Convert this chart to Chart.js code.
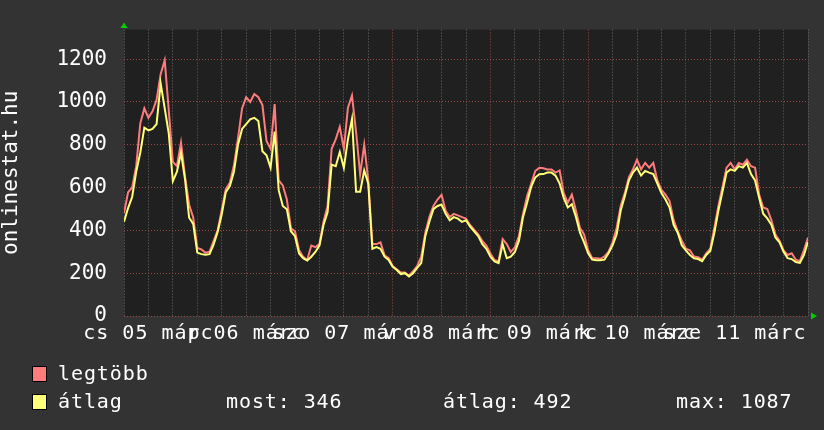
<!DOCTYPE html>
<html>
<head>
<meta charset="utf-8">
<script src="https://cdn.jsdelivr.net/npm/chart.js@4.4.1/dist/chart.umd.min.js"></script>
<style>
  html, body { margin: 0; padding: 0; background: #333333; }
  #wrap { position: relative; width: 824px; height: 430px; overflow: hidden; }
  canvas { position: absolute; left: 0; top: 0; }
  .txt { position: absolute; font: 20px 'DejaVu Sans Mono', monospace; line-height: 20px;
         color: #ffffff; white-space: pre; letter-spacing: 0.9px; }
  .sw { position: absolute; width: 13px; height: 14px; border: 1px solid #000; }
</style>
</head>
<body>
<div id="wrap">
  <canvas id="chart" width="824" height="430"></canvas>
  <div id="legend"></div>
</div>
<script>
// hourly samples, 7 days starting 06:00 the day before "cs 05"
const maxVals = [
  480, 578, 600, 700, 900, 970, 926, 956, 1010, 1130, 1195, 960,
  720, 700, 810, 650, 520, 460, 318, 311, 296, 300, 350, 400,
  496, 593, 622, 704, 830, 970, 1022, 1000, 1037, 1022, 985, 818,
  781, 990, 633, 610, 544, 410, 396, 307, 277, 262, 329, 322,
  336, 440, 514, 781, 825, 884, 781, 973, 1030, 860, 662, 800,
  633, 336, 336, 344, 284, 270, 233, 218, 203, 203, 188, 210,
  233, 277, 388, 462, 514, 544, 566, 492, 462, 477, 470, 462,
  455, 425, 403, 381, 351, 329, 292, 262, 255, 359, 336, 299,
  321, 373, 477, 559, 618, 677, 692, 690, 685, 685, 670, 680,
  574, 530, 567, 493, 411, 381, 307, 270, 270, 267, 278, 300,
  344, 411, 515, 574, 648, 685, 730, 685, 715, 693, 715, 633,
  589, 567, 537, 448, 396, 352, 315, 307, 278, 275, 263, 293,
  315, 411, 515, 604, 693, 715, 685, 715, 707, 730, 700, 693,
  567, 507, 500, 448, 381, 352, 307, 285, 293, 263, 256, 307,
  367
];
const avgVals = [
  440, 504, 556, 674, 763, 880, 867, 874, 896, 1087, 970, 852,
  630, 674, 763, 637, 459, 430, 296, 289, 286, 289, 333, 393,
  474, 578, 607, 674, 800, 874, 896, 919, 926, 911, 770, 751,
  692, 862, 588, 514, 499, 396, 373, 292, 270, 259, 277, 299,
  329, 425, 484, 707, 700, 766, 692, 825, 921, 581, 581, 680,
  618, 314, 322, 314, 277, 262, 230, 215, 196, 200, 185, 200,
  225, 247, 373, 440, 499, 514, 521, 477, 447, 462, 455, 440,
  447, 418, 396, 373, 336, 314, 277, 255, 247, 336, 270, 277,
  299, 351, 462, 529, 603, 647, 662, 663, 670, 670, 656, 619,
  552, 507, 522, 463, 389, 344, 293, 263, 260, 260, 263, 293,
  330, 381, 493, 559, 633, 670, 693, 656, 678, 670, 663, 619,
  574, 544, 507, 426, 389, 330, 307, 285, 270, 266, 256, 285,
  304, 389, 493, 581, 670, 685, 678, 700, 693, 715, 663, 633,
  552, 478, 456, 426, 367, 344, 300, 270, 266, 252, 248, 285,
  346
];
const dayLabels = ['cs 05 márc', 'p 06 márc', 'szo 07 márc', 'v 08 márc', 'h 09 márc', 'k 10 márc', 'sze 11 márc'];
const labelHours = [6, 30, 54, 78, 102, 126, 150];
const midnightHours = [18, 42, 66, 90, 114, 138, 162];
const seriesNames = ['legtöbb', 'átlag'];
const seriesColors = ['#ff7c7c', '#ffff78'];
const statNames = ['most', 'átlag', 'max'];
const statValues = [346, 492, 1087];
const yTitle = 'onlinestat.hu';

const RED_GRID = '#9a4848';
const GRAY_GRID = '#6c6c6c';
const FONT = "'DejaVu Sans Mono', monospace";

const backdrop = {
  id: 'backdrop',
  beforeDraw(chart) {
    const { ctx, chartArea: a } = chart;
    ctx.save();
    ctx.fillStyle = '#333333';
    ctx.fillRect(0, 0, chart.width, chart.height);
    ctx.fillStyle = '#202020';
    ctx.fillRect(a.left, a.top, a.right - a.left, a.bottom - a.top);
    ctx.restore();
  },
  afterDraw(chart) {
    // little green arrow heads at the axis ends
    const { ctx, chartArea: a } = chart;
    ctx.save();
    ctx.fillStyle = '#00d000';
    ctx.beginPath();
    ctx.moveTo(a.left - 3.5, a.top - 1.5);
    ctx.lineTo(a.left + 3.5, a.top - 1.5);
    ctx.lineTo(a.left, a.top - 7);
    ctx.fill();
    ctx.beginPath();
    ctx.moveTo(a.right + 3, a.bottom - 3.5);
    ctx.lineTo(a.right + 3, a.bottom + 3.5);
    ctx.lineTo(a.right + 9, a.bottom);
    ctx.fill();
    ctx.restore();
  }
};

const toPoints = vals => vals.map((v, i) => ({ x: i, y: v }));

const chart = new Chart(document.getElementById('chart'), {
  type: 'line',
  data: {
    datasets: [
      { label: seriesNames[0], data: toPoints(maxVals), borderColor: seriesColors[0], borderWidth: 2, order: 1 },
      { label: seriesNames[1], data: toPoints(avgVals), borderColor: seriesColors[1], borderWidth: 2, order: 0 }
    ]
  },
  options: {
    responsive: false,
    animation: false,
    parsing: false,
    elements: { point: { radius: 0 }, line: { tension: 0 } },
    layout: { padding: { top: 14, right: 16, left: 0, bottom: 0 } },
    plugins: { legend: { display: false }, tooltip: { enabled: false } },
    scales: {
      x: {
        type: 'linear',
        min: 0,
        max: 168,
        afterFit: s => { s.height = 114; },
        afterBuildTicks: s => {
          const t = [];
          for (let v = 0; v <= 168; v += 6) t.push({ value: v });
          s.ticks = t;
        },
        grid: {
          drawTicks: false,
          lineWidth: 1,
          color: c => midnightHours.includes(c.tick.value) ? RED_GRID : GRAY_GRID
        },
        border: { display: false, dash: [1, 2] },
        ticks: {
          autoSkip: false,
          maxRotation: 0,
          minRotation: 0,
          padding: 6,
          color: '#ffffff',
          font: { family: FONT, size: 20 },
          callback: v => {
            const i = labelHours.indexOf(v);
            return i >= 0 ? dayLabels[i] : '';
          }
        }
      },
      y: {
        min: 0,
        max: 1338,
        afterFit: s => { s.width = 124; },
        afterBuildTicks: s => {
          const t = [];
          for (let v = 0; v <= 1300; v += 100) t.push({ value: v });
          s.ticks = t;
        },
        grid: {
          drawTicks: false,
          lineWidth: 1,
          color: c => c.tick.value % 200 === 0 ? RED_GRID : GRAY_GRID
        },
        border: { display: false, dash: [1, 2] },
        ticks: {
          padding: 17,
          color: '#ffffff',
          font: { family: FONT, size: 21 },
          callback: v => v % 200 === 0 ? String(v) : ''
        },
        title: {
          display: true,
          text: yTitle,
          color: '#ffffff',
          font: { family: FONT, size: 21, lineHeight: 1 },
          padding: { top: 1, bottom: 0 }
        }
      }
    }
  },
  plugins: [backdrop]
});

// the date labels are a bit wider spaced than the plain font
const xScale = chart.scales.x;
xScale.drawLabels = function (area) {
  const c = this.ctx;
  const prev = c.letterSpacing;
  c.letterSpacing = '1px';
  Chart.Scale.prototype.drawLabels.call(this, area);
  c.letterSpacing = prev || '0px';
};
chart.draw();

// legend block under the plot
const legend = document.getElementById('legend');
const rowTops = [363, 391];
seriesNames.forEach((name, i) => {
  const sw = document.createElement('div');
  sw.className = 'sw';
  sw.style.left = '32px';
  sw.style.top = (rowTops[i] + 3) + 'px';
  sw.style.background = seriesColors[i];
  legend.appendChild(sw);
  const t = document.createElement('div');
  t.className = 'txt';
  t.style.left = '58px';
  t.style.top = rowTops[i] + 'px';
  t.textContent = name;
  legend.appendChild(t);
});
const statLefts = [226, 443, 676];
statNames.forEach((name, i) => {
  const t = document.createElement('div');
  t.className = 'txt';
  t.style.left = statLefts[i] + 'px';
  t.style.top = rowTops[1] + 'px';
  t.textContent = name + ': ' + statValues[i];
  legend.appendChild(t);
});
</script>
</body>
</html>
